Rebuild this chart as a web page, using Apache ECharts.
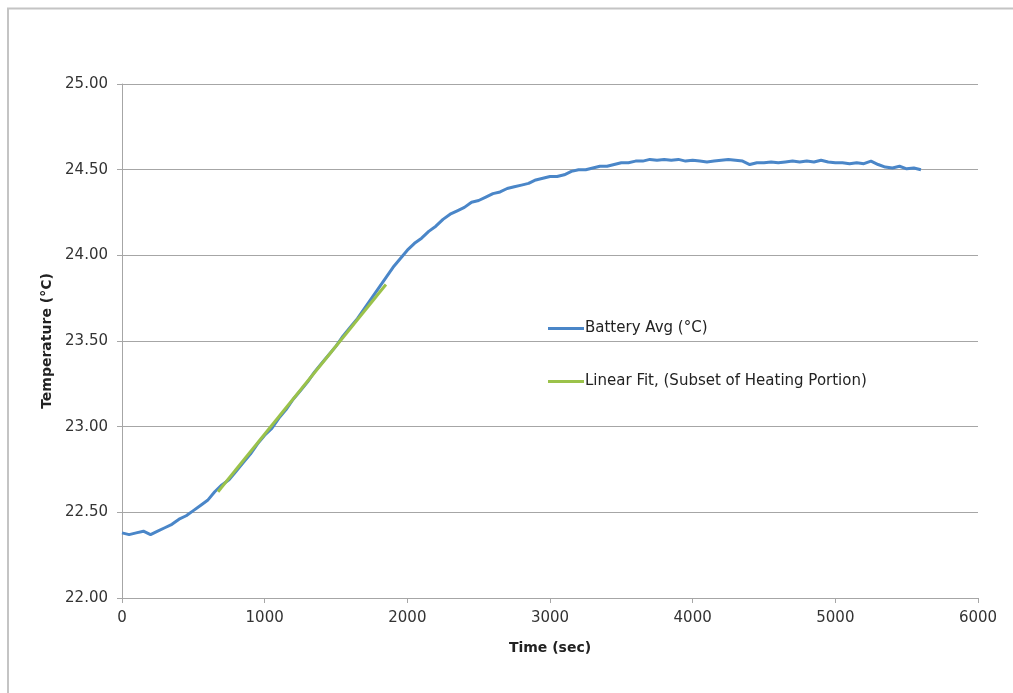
<!DOCTYPE html>
<html>
<head>
<meta charset="utf-8">
<script src="https://cdn.jsdelivr.net/npm/echarts@6/dist/echarts.min.js"></script>
<style>html,body{margin:0;padding:0;background:#fff;}#c{width:1013px;height:693px;}</style>
</head>
<body>
<div id="c"></div>
<script>
// Time (sec) for battery readings
const batteryTime = [0,50,100,150,200,250,300,350,400,450,500,550,600,650,700,750,800,850,900,950,
1000,1050,1100,1150,1200,1250,1300,1350,1400,1450,1500,1550,1600,1650,1700,1750,1800,1850,1900,1950,
2000,2050,2100,2150,2200,2250,2300,2350,2400,2450,2500,2550,2600,2650,2700,2750,2800,2850,2900,2950,
3000,3050,3100,3150,3200,3250,3300,3350,3400,3450,3500,3550,3600,3650,3700,3750,3800,3850,3900,3950,
4000,4050,4100,4150,4200,4250,4300,4350,4400,4450,4500,4550,4600,4650,4700,4750,4800,4850,4900,4950,
5000,5050,5100,5150,5200,5250,5300,5350,5400,5450,5500,5550,5600];
// Battery Avg (°C)
const batteryAvg = [22.38,22.37,22.38,22.39,22.37,22.39,22.41,22.43,22.46,22.48,22.51,22.54,22.57,22.62,22.66,22.69,22.74,22.79,22.84,22.90,
22.95,22.99,23.05,23.10,23.16,23.21,23.26,23.32,23.37,23.42,23.47,23.53,23.58,23.63,23.69,23.75,23.81,23.87,23.93,23.98,
24.03,24.07,24.10,24.14,24.17,24.21,24.24,24.26,24.28,24.31,24.32,24.34,24.36,24.37,24.39,24.40,24.41,24.42,24.44,24.45,
24.46,24.46,24.47,24.49,24.50,24.50,24.51,24.52,24.52,24.53,24.54,24.54,24.55,24.55,24.56,24.555,24.56,24.555,24.56,24.55,
24.555,24.55,24.545,24.55,24.555,24.56,24.555,24.55,24.53,24.54,24.54,24.545,24.54,24.545,24.55,24.545,24.55,24.545,24.555,24.545,
24.54,24.54,24.535,24.54,24.535,24.55,24.53,24.515,24.51,24.52,24.505,24.51,24.50];
// Linear fit endpoints
const fitTime = [673, 1850];
const fitValue = [22.62, 23.83];
const xTicks = {min: 0, max: 6000, interval: 1000};
const yTicks = {min: 22, max: 25, interval: 0.5};

const chart = echarts.init(document.getElementById('c'));
const gray = '#a6a6a6';
const font = 'DejaVu Sans, Verdana, sans-serif';
chart.setOption({
  animation: false,
  backgroundColor: '#fff',
  grid: {left: 122, right: 35, top: 84, bottom: 95},
  graphic: [{
    type: 'polyline',
    shape: {points: [[8, 700], [8, 8.5], [1020, 8.5]]},
    style: {stroke: '#c4c4c4', lineWidth: 2, fill: null}
  }],
  legend: {
    orient: 'vertical',
    left: 543, top: 316,
    itemWidth: 36, itemHeight: 3, itemGap: 38,
    icon: 'rect',
    textStyle: {fontFamily: font, fontSize: 15, color: '#222', padding: [0, 0, 0, -4], lineHeight: 15},
    data: ['Battery Avg (°C)', 'Linear Fit, (Subset of Heating Portion)']
  },
  xAxis: {
    type: 'value', min: xTicks.min, max: xTicks.max, interval: xTicks.interval,
    name: 'Time (sec)', nameLocation: 'middle', nameGap: 43,
    nameTextStyle: {fontFamily: font, fontSize: 14, fontWeight: 'bold', color: '#222'},
    axisLine: {show: true, lineStyle: {color: gray, width: 1}},
    axisTick: {show: true, length: 5, lineStyle: {color: gray}},
    axisLabel: {fontFamily: font, fontSize: 15, color: '#333', margin: 13, formatter: v => String(v)},
    splitLine: {show: false}
  },
  yAxis: {
    type: 'value', min: yTicks.min, max: yTicks.max, interval: yTicks.interval,
    name: 'Temperature (°C)', nameLocation: 'middle', nameGap: 64,
    nameTextStyle: {fontFamily: font, fontSize: 14, fontWeight: 'bold', color: '#222'},
    axisLine: {show: true, lineStyle: {color: gray, width: 1}},
    axisTick: {show: true, length: 5, lineStyle: {color: gray}},
    axisLabel: {fontFamily: font, fontSize: 15, color: '#333', margin: 14, formatter: v => v.toFixed(2)},
    splitLine: {show: true, lineStyle: {color: gray, width: 1}}
  },
  series: [{
    name: 'Battery Avg (°C)', type: 'line', showSymbol: false, symbol: 'none',
    data: batteryTime.map((t, i) => [t, batteryAvg[i]]),
    lineStyle: {color: '#4a86c8', width: 3},
    itemStyle: {color: '#4a86c8'}
  }, {
    name: 'Linear Fit, (Subset of Heating Portion)', type: 'line', showSymbol: false, symbol: 'none',
    data: fitTime.map((t, i) => [t, fitValue[i]]),
    lineStyle: {color: '#9bc24a', width: 3},
    itemStyle: {color: '#9bc24a'}
  }]
});
</script>
</body>
</html>
